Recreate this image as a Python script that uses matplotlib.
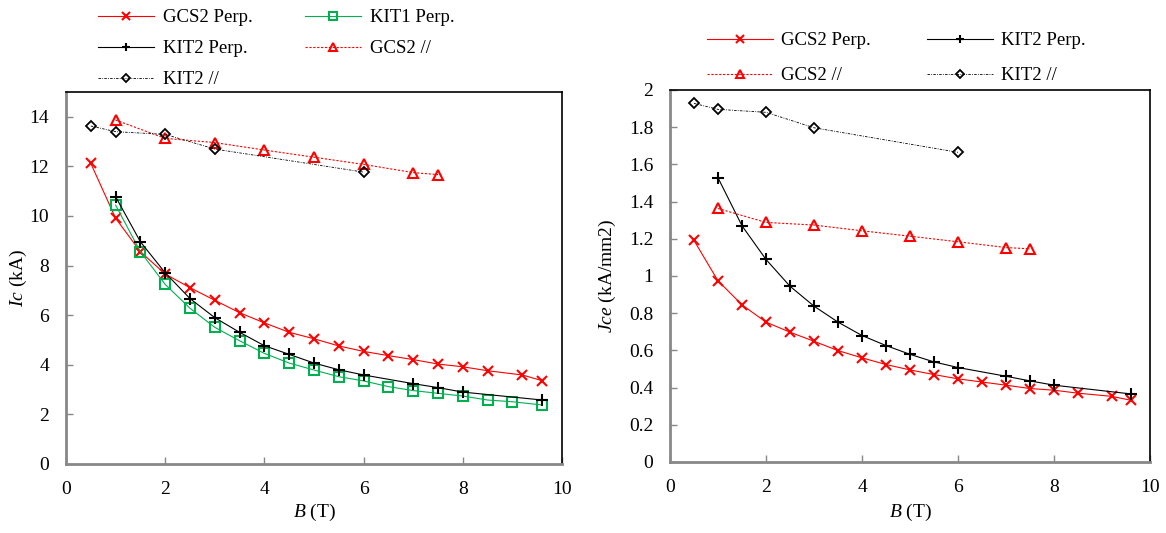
import matplotlib
matplotlib.use("Agg")
import matplotlib.pyplot as plt

plt.rcParams['font.family'] = ['Liberation Serif', 'DejaVu Serif']
plt.rcParams['mathtext.fontset'] = 'custom'
plt.rcParams['mathtext.rm'] = 'Liberation Serif'
plt.rcParams['mathtext.it'] = 'Liberation Serif:italic'
plt.rcParams['font.size'] = 14

# Campo B (T)
b_gcs2_perp = [0.5, 1, 1.5, 2, 2.5, 3, 3.5, 4, 4.5, 5, 5.5, 6, 6.5, 7, 7.5, 8, 8.5, 9.2, 9.6]
b_kit1_perp = [1, 1.5, 2, 2.5, 3, 3.5, 4, 4.5, 5, 5.5, 6, 6.5, 7, 7.5, 8, 8.5, 9, 9.6]
b_kit2_perp = [1, 1.5, 2, 2.5, 3, 3.5, 4, 4.5, 5, 5.5, 6, 7, 7.5, 8, 9.6]
b_gcs2_par = [1, 2, 3, 4, 5, 6, 7, 7.5]
b_kit2_par = [0.5, 1, 2, 3, 6]

# Ic (kA)
ic_gcs2_perp = [12.12, 9.91, 8.56, 7.66, 7.11, 6.60, 6.10, 5.69, 5.31, 5.05, 4.76, 4.54,
                4.37, 4.21, 4.03, 3.92, 3.76, 3.59, 3.36]
ic_kit1_perp = [10.44, 8.56, 7.24, 6.28, 5.51, 4.97, 4.46, 4.07, 3.79, 3.52, 3.35, 3.12,
                2.96, 2.85, 2.74, 2.58, 2.51, 2.38]
ic_kit2_perp = [10.78, 8.96, 7.71, 6.67, 5.90, 5.31, 4.77, 4.42, 4.07, 3.80, 3.59, 3.24,
                3.08, 2.90, 2.58]
ic_gcs2_par = [13.87, 13.13, 12.96, 12.66, 12.37, 12.08, 11.75, 11.67]
ic_kit2_par = [13.63, 13.40, 13.29, 12.70, 11.77]

# Jce (kA/mm2)
jce_gcs2_perp = [1.191, 0.974, 0.845, 0.752, 0.698, 0.649, 0.599, 0.560, 0.524, 0.495, 0.470,
                 0.447, 0.430, 0.413, 0.395, 0.386, 0.370, 0.353, 0.332]
jce_kit2_perp = [1.528, 1.270, 1.089, 0.945, 0.838, 0.752, 0.680, 0.626, 0.579, 0.538, 0.508,
                 0.461, 0.436, 0.413, 0.366]
jce_gcs2_par = [1.363, 1.288, 1.274, 1.243, 1.214, 1.184, 1.153, 1.146]
jce_kit2_par = [1.928, 1.896, 1.880, 1.797, 1.665]

VERMELHO = '#FF0000'
VERDE = '#00B050'
W, H = 1166, 533


def plot_gcs2_perp(ax, x, y):
    return ax.plot(x, y, color=VERMELHO, lw=0.8, marker='x', ms=7, mew=1.5,
                   label='GCS2 Perp.')[0]


def plot_kit1_perp(ax, x, y):
    return ax.plot(x, y, color=VERDE, lw=0.8, marker='s', ms=7, mew=1.5,
                   mfc='none', label='KIT1 Perp.')[0]


def plot_kit2_perp(ax, x, y):
    return ax.plot(x, y, color='black', lw=0.8, marker='+', ms=8, mew=1.5,
                   label='KIT2 Perp.')[0]


def plot_gcs2_par(ax, x, y):
    return ax.plot(x, y, color=VERMELHO, lw=0.8, ls=(0, (2, 1.5)), marker='^', ms=7,
                   mew=1.5, mfc='none', label='GCS2 //')[0]


def plot_kit2_par(ax, x, y):
    return ax.plot(x, y, color='black', lw=0.6, ls=(0, (3, 1.5, 1, 1.5)), marker='D',
                   ms=5, mew=1.3, mfc='none', label='KIT2 //')[0]


def estilo_eixo(ax):
    for lado in ['left', 'bottom']:
        ax.spines[lado].set_color('#888888')
        ax.spines[lado].set_linewidth(2)
    for lado in ['top', 'right']:
        ax.spines[lado].set_color('black')
        ax.spines[lado].set_linewidth(1.2)
    ax.tick_params(direction='in', length=5, width=1, color='#888888', labelsize=14)
    ax.tick_params(axis='x', pad=12)
    ax.tick_params(axis='y', pad=12)
    ax.tick_params(top=False, right=False)


fig = plt.figure(figsize=(W / 100, H / 100), dpi=100)

# Grafico da esquerda: Ic
ax1 = fig.add_axes([66 / W, 1 - 464 / H, 496 / W, 372 / H])
h1 = plot_gcs2_perp(ax1, b_gcs2_perp, ic_gcs2_perp)
h2 = plot_kit1_perp(ax1, b_kit1_perp, ic_kit1_perp)
h3 = plot_kit2_perp(ax1, b_kit2_perp, ic_kit2_perp)
h4 = plot_gcs2_par(ax1, b_gcs2_par, ic_gcs2_par)
h5 = plot_kit2_par(ax1, b_kit2_par, ic_kit2_par)
ax1.set_xlim(0, 10)
ax1.set_ylim(0, 15)
ax1.set_xticks(range(0, 11, 2))
ax1.set_yticks(range(0, 15, 2))
ax1.set_xlabel(r'$\it{B}$ (T)', fontsize=14)
ax1.set_ylabel(r'$\it{Ic}$ (kA)', fontsize=14)
ax1.xaxis.set_label_coords(0.5, (464 - 502) / 372)
ax1.yaxis.set_label_coords((29 - 66) / 496, 0.5)
estilo_eixo(ax1)
# Ordem por linha: colunas do matplotlib preenchidas primeiro
fig.legend([h1, h3, h5, h2, h4],
           ['GCS2 Perp.', 'KIT2 Perp.', 'KIT2 //', 'KIT1 Perp.', 'GCS2 //'],
           ncol=2, frameon=False, loc='upper left',
           bbox_to_anchor=(98 / W, 1 - 9 / H), bbox_transform=fig.transFigure,
           handlelength=3.0, handletextpad=0.45, columnspacing=2.8,
           labelspacing=0.75, fontsize=13.5, markerscale=0.8,
           borderpad=0, borderaxespad=0)

# Grafico da direita: Jce
ax2 = fig.add_axes([670 / W, 1 - 462 / H, 480 / W, 372 / H])
g1 = plot_gcs2_perp(ax2, b_gcs2_perp, jce_gcs2_perp)
g3 = plot_kit2_perp(ax2, b_kit2_perp, jce_kit2_perp)
g4 = plot_gcs2_par(ax2, b_gcs2_par, jce_gcs2_par)
g5 = plot_kit2_par(ax2, b_kit2_par, jce_kit2_par)
ax2.set_xlim(0, 10)
ax2.set_ylim(0, 2)
ax2.set_xticks(range(0, 11, 2))
ax2.set_yticks([0, 0.2, 0.4, 0.6, 0.8, 1, 1.2, 1.4, 1.6, 1.8, 2])
ax2.set_yticklabels(['0', '0.2', '0.4', '0.6', '0.8', '1', '1.2', '1.4', '1.6', '1.8', '2'])
ax2.set_xlabel(r'$\it{B}$ (T)', fontsize=14)
ax2.set_ylabel(r'$\it{Jce}$ (kA/mm2)', fontsize=14)
ax2.xaxis.set_label_coords(0.5, (462 - 502) / 372)
ax2.yaxis.set_label_coords((618 - 670) / 480, 0.5)
estilo_eixo(ax2)
fig.legend([g1, g4, g3, g5],
           ['GCS2 Perp.', 'GCS2 //', 'KIT2 Perp.', 'KIT2 //'],
           ncol=2, frameon=False, loc='upper left',
           bbox_to_anchor=(707 / W, 1 - 32 / H), bbox_transform=fig.transFigure,
           handlelength=3.5, handletextpad=0.45, columnspacing=3.0,
           labelspacing=0.95, fontsize=13.5, markerscale=0.8,
           borderpad=0, borderaxespad=0)

fig.savefig('out.png', dpi=100)
